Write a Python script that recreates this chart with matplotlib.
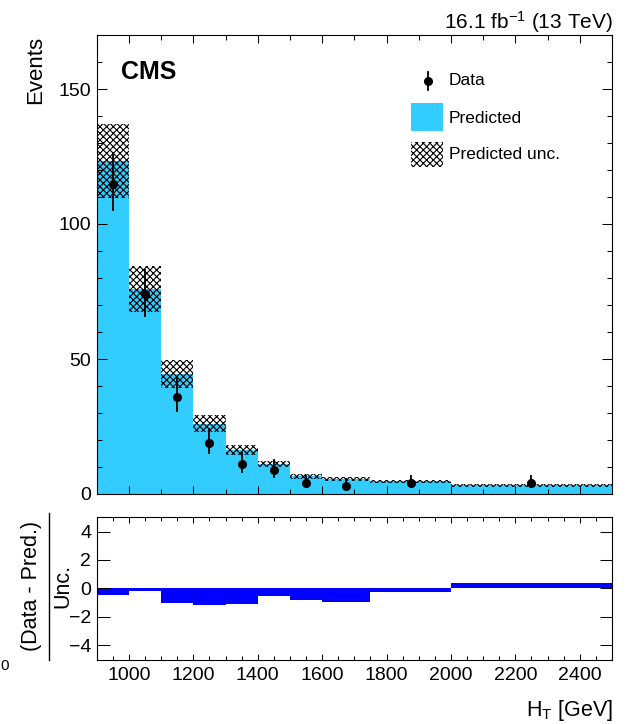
import numpy as np
import matplotlib
matplotlib.use("Agg")
import matplotlib.pyplot as plt
from matplotlib.patches import Rectangle
from matplotlib.lines import Line2D
from matplotlib.ticker import MultipleLocator

plt.rcParams["font.family"] = ["Liberation Sans", "DejaVu Sans"]
plt.rcParams["mathtext.fontset"] = "custom"
plt.rcParams["mathtext.rm"] = "Liberation Sans"
plt.rcParams["mathtext.it"] = "Liberation Sans:italic"
plt.rcParams["mathtext.bf"] = "Liberation Sans:bold"
plt.rcParams["hatch.linewidth"] = 0.8

# HT binning (GeV)
bin_edges = [900, 1000, 1100, 1200, 1300, 1400, 1500, 1600, 1750, 2000, 2500]

# Observed events and asymmetric Poisson errors
data = [115, 74, 36, 19, 11, 9, 4, 3, 4, 4]
data_err_lo = [10.2, 8.3, 5.8, 4.3, 3.3, 2.9, 1.9, 1.6, 1.9, 1.9]
data_err_hi = [11.2, 9.3, 6.8, 5.3, 4.4, 4.1, 3.2, 2.9, 3.2, 3.2]

# Predicted background and its uncertainty
predicted = [123.2, 76.0, 44.4, 26.1, 16.2, 11.2, 6.6, 5.6, 4.7, 3.2]
predicted_unc = [13.7, 8.6, 5.1, 3.0, 1.8, 1.2, 0.9, 0.6, 0.6, 0.5]

# (Data - Pred.) / Unc. per bin
pull = [-0.48, -0.17, -1.0, -1.17, -1.1, -0.55, -0.81, -0.93, -0.24, 0.36]

x_ticks = [1000, 1200, 1400, 1600, 1800, 2000, 2200, 2400]

edges = np.array(bin_edges, dtype=float)
lefts = edges[:-1]
widths = np.diff(edges)
centers = lefts + widths / 2
pred = np.array(predicted)
unc = np.array(predicted_unc)

W, H = 631, 724
fig = plt.figure(figsize=(W / 100, H / 100), dpi=100)

ax = fig.add_axes([96.7 / W, 1 - 494 / H, (612 - 96.7) / W, (494 - 35) / H])
axr = fig.add_axes([96.7 / W, 1 - 659.6 / H, (612 - 96.7) / W, (659.6 - 517.3) / H])

pred_color = "#33ccff"

# Upper panel: prediction, uncertainty band, data
ax.bar(lefts, pred, width=widths, align="edge", color=pred_color, linewidth=0, zorder=1)
ax.bar(lefts, 2 * unc, width=widths, bottom=pred - unc, align="edge",
       fill=False, hatch="xxxxx", edgecolor="black", linewidth=0, zorder=2)
ax.errorbar(centers, data, yerr=[data_err_lo, data_err_hi], fmt="o", color="black",
            ms=5.5, elinewidth=1.3, capsize=0, zorder=3)

ax.set_xlim(900, 2500)
ax.set_ylim(0, 170)
ax.yaxis.set_major_locator(MultipleLocator(50))
ax.yaxis.set_minor_locator(MultipleLocator(10))
ax.set_xticks(x_ticks)
ax.xaxis.set_minor_locator(MultipleLocator(100))
ax.tick_params(axis="x", labelbottom=False)

# Lower panel: pull
axr.bar(lefts, pull, width=widths, align="edge", color="#0000ff", linewidth=0)
axr.set_xlim(900, 2500)
axr.set_ylim(-5, 5)
axr.set_yticks([-4, -2, 0, 2, 4])
axr.set_yticklabels(["\u22124", "\u22122", "0", "2", "4"])
axr.set_xticks(x_ticks)
axr.xaxis.set_minor_locator(MultipleLocator(50))

for a in (ax, axr):
    for s in a.spines.values():
        s.set_linewidth(0.8)
    a.tick_params(which="both", direction="in", top=True, right=True, width=0.75)
    a.tick_params(which="major", labelsize=14, pad=4)

ax.tick_params(axis="y", which="major", length=7)
ax.tick_params(axis="y", which="minor", length=3.5)
ax.tick_params(axis="x", which="major", length=6)
ax.tick_params(axis="x", which="minor", length=3.5)
axr.tick_params(axis="y", which="major", length=9)
axr.tick_params(axis="x", which="major", length=4.5)
axr.tick_params(axis="x", which="minor", length=3)
axr.tick_params(axis="x", which="major", pad=5, labelsize=14)

# Legend
tr = ax.transAxes
ax.add_line(Line2D([0.643, 0.643], [0.880, 0.920], color="black", lw=1.3, transform=tr))
ax.plot([0.643], [0.900], "o", color="black", ms=5.5, transform=tr)
ax.text(0.683, 0.900, "Data", transform=tr, fontsize=12.5, va="center", ha="left")
ax.add_patch(Rectangle((0.610, 0.791), 0.062, 0.061, transform=tr,
                       facecolor=pred_color, linewidth=0))
ax.text(0.683, 0.819, "Predicted", transform=tr, fontsize=12.5, va="center", ha="left")
ax.add_patch(Rectangle((0.610, 0.712), 0.062, 0.055, transform=tr, fill=False,
                       hatch="xxxxx", edgecolor="black", linewidth=0))
ax.text(0.683, 0.739, "Predicted unc.", transform=tr, fontsize=12.5, va="center", ha="left")

# CMS label and luminosity
ax.text(0.047, 0.945, "CMS", transform=tr, fontsize=18, fontweight="bold",
        va="top", ha="left")
fig.text(613 / W, 1 - 29 / H, r"16.1 fb$^{-1}$ (13 TeV)", fontsize=15,
         ha="right", va="baseline")

# Axis titles
fig.text(36 / W, 1 - 36 / H, "Events", rotation=90, fontsize=16,
         ha="center", va="top")
fig.text(613 / W, 1 - 716 / H, r"H$_{\mathrm{T}}$ [GeV]", fontsize=15.5,
         ha="right", va="baseline")

yc = 1 - 586 / H
fig.text(32 / W, yc, "(Data - Pred.)", rotation=90, fontsize=15.5,
         ha="center", va="center")
fig.add_artist(Line2D([49 / W, 49 / W], [1 - 660 / H, 1 - 513 / H], color="black",
                      lw=1.0, transform=fig.transFigure))
fig.text(63 / W, yc, "Unc.", rotation=90, fontsize=15.5, ha="center", va="center")

# small zero at the left edge
fig.text(0.5 / W, 1 - 666 / H, "0", fontsize=11, ha="left", va="center")

fig.savefig("out.png", dpi=100)
